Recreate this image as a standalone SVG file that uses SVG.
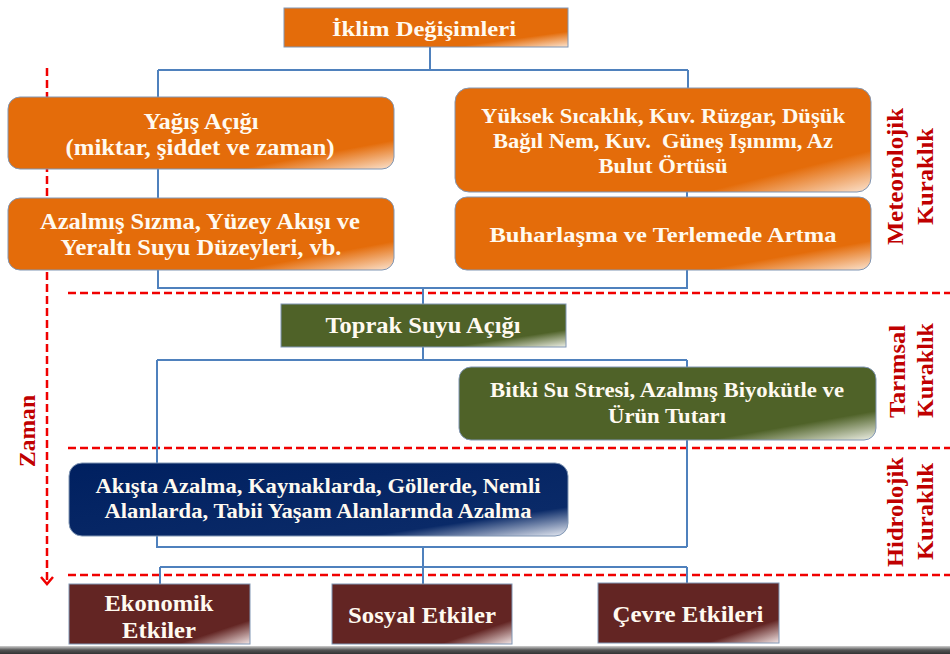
<svg xmlns="http://www.w3.org/2000/svg" width="950" height="654" viewBox="0 0 950 654">
<defs>
<linearGradient id="gOr" x1="0" y1="0" x2="1" y2="1"><stop offset="0" stop-color="#E46C0A"/><stop offset="0.8" stop-color="#E46C0A"/><stop offset="1" stop-color="#FBE3CF"/></linearGradient>
<linearGradient id="gGr" x1="0" y1="0" x2="1" y2="1"><stop offset="0" stop-color="#4F6228"/><stop offset="0.8" stop-color="#4F6228"/><stop offset="1" stop-color="#EEF0E6"/></linearGradient>
<linearGradient id="gNv" x1="0" y1="0" x2="1" y2="1"><stop offset="0" stop-color="#002060"/><stop offset="0.8" stop-color="#0A2A68"/><stop offset="1" stop-color="#E8ECF4"/></linearGradient>
<linearGradient id="gMr" x1="0" y1="0" x2="1" y2="1"><stop offset="0" stop-color="#632523"/><stop offset="0.8" stop-color="#632523"/><stop offset="1" stop-color="#F2E6E6"/></linearGradient>
<linearGradient id="gBar" x1="0" y1="0" x2="0" y2="1"><stop offset="0" stop-color="#d0d0d0"/><stop offset="0.5" stop-color="#555"/><stop offset="1" stop-color="#333"/></linearGradient>
<style>
.bx{stroke:#8096B4;stroke-width:1}
text{font-family:"Liberation Serif","Times New Roman",serif;font-weight:bold}
.t{fill:#FFFAF0;text-anchor:middle}
.s{fill:#C00000;text-anchor:middle}
.c{fill:none;stroke:#4F81BD;stroke-width:2}
.d{fill:none;stroke:#F00000;stroke-width:2.5;stroke-dasharray:8 4}
</style>
</defs>
<rect width="950" height="654" fill="#ffffff"/>

<g id="guides">
<path class="d" d="M68 293H950M68 448H950M68 575H950"/>
<path class="d" d="M47 68V582"/>
<path d="M41 577L47 584L53 577" fill="none" stroke="#F00000" stroke-width="2.5"/>
</g>

<g id="connectors">
<path class="c" d="M430 47V70M158 70H688M158 70V97M688 70V88"/>
<path class="c" d="M158 169V198M687 192V197"/>
<path class="c" d="M158 270V288H687V270M423 288V304"/>
<path class="c" d="M423 347V360M157 360H687M157 360V463M687 360V367"/>
<path class="c" d="M687 440V547M157 536V547H687"/>
<path class="c" d="M423 547V567M160 567H687M160 567V584M423 567V584M687 567V583"/>
</g>

<g id="iklim">
<rect class="bx" x="284" y="8" width="284" height="39" fill="url(#gOr)"/>
<text class="t" x="424" y="36" font-size="22" textLength="184" lengthAdjust="spacingAndGlyphs">İklim Değişimleri</text>
</g>

<g id="yagis">
<rect class="bx" x="8" y="97" width="386" height="72" rx="12" fill="url(#gOr)"/>
<text class="t" x="201" y="129" font-size="23" textLength="115" lengthAdjust="spacingAndGlyphs">Yağış Açığı</text>
<text class="t" x="200" y="155" font-size="23" textLength="269" lengthAdjust="spacingAndGlyphs">(miktar, şiddet ve zaman)</text>
</g>

<g id="azalmis">
<rect class="bx" x="8" y="198" width="386" height="72" rx="12" fill="url(#gOr)"/>
<text class="t" x="200" y="229" font-size="23" textLength="320" lengthAdjust="spacingAndGlyphs">Azalmış Sızma, Yüzey Akışı ve</text>
<text class="t" x="201" y="255" font-size="23" textLength="281" lengthAdjust="spacingAndGlyphs">Yeraltı Suyu Düzeyleri, vb.</text>
</g>

<g id="yuksek">
<rect class="bx" x="455" y="88" width="416" height="104" rx="14" fill="url(#gOr)"/>
<text class="t" x="663" y="123" font-size="22" textLength="364" lengthAdjust="spacingAndGlyphs">Yüksek Sıcaklık, Kuv. Rüzgar, Düşük</text>
<text class="t" x="663" y="148" font-size="22" textLength="340" lengthAdjust="spacingAndGlyphs" xml:space="preserve">Bağıl Nem, Kuv.  Güneş Işınımı, Az</text>
<text class="t" x="663" y="173" font-size="22" textLength="129" lengthAdjust="spacingAndGlyphs">Bulut Örtüsü</text>
</g>

<g id="buharlasma">
<rect class="bx" x="455" y="197" width="416" height="73" rx="12" fill="url(#gOr)"/>
<text class="t" x="663" y="242" font-size="22" textLength="347" lengthAdjust="spacingAndGlyphs">Buharlaşma ve Terlemede Artma</text>
</g>

<g id="toprak">
<rect class="bx" x="281" y="304" width="285" height="43" fill="url(#gGr)"/>
<text class="t" x="423" y="333" font-size="23" textLength="195" lengthAdjust="spacingAndGlyphs">Toprak Suyu Açığı</text>
</g>

<g id="bitki">
<rect class="bx" x="459" y="367" width="417" height="73" rx="12" fill="url(#gGr)"/>
<text class="t" x="667" y="397" font-size="22" textLength="354" lengthAdjust="spacingAndGlyphs">Bitki Su Stresi, Azalmış Biyokütle ve</text>
<text class="t" x="667" y="423" font-size="22" textLength="118" lengthAdjust="spacingAndGlyphs">Ürün Tutarı</text>
</g>

<g id="akista">
<rect class="bx" x="69" y="463" width="499" height="73" rx="13" fill="url(#gNv)"/>
<text class="t" x="318" y="493" font-size="22" textLength="445" lengthAdjust="spacingAndGlyphs">Akışta Azalma, Kaynaklarda, Göllerde, Nemli</text>
<text class="t" x="318" y="518" font-size="22" textLength="427" lengthAdjust="spacingAndGlyphs">Alanlarda, Tabii Yaşam Alanlarında Azalma</text>
</g>

<g id="ekonomik">
<rect class="bx" x="69" y="584" width="181" height="60" fill="url(#gMr)"/>
<text class="t" x="159" y="611" font-size="23" textLength="109" lengthAdjust="spacingAndGlyphs">Ekonomik</text>
<text class="t" x="159" y="638" font-size="23" textLength="74" lengthAdjust="spacingAndGlyphs">Etkiler</text>
</g>

<g id="sosyal">
<rect class="bx" x="332" y="584" width="180" height="60" fill="url(#gMr)"/>
<text class="t" x="422" y="623" font-size="23" textLength="148" lengthAdjust="spacingAndGlyphs">Sosyal Etkiler</text>
</g>

<g id="cevre">
<rect class="bx" x="598" y="583" width="181" height="60" fill="url(#gMr)"/>
<text class="t" x="688" y="622" font-size="23" textLength="151" lengthAdjust="spacingAndGlyphs">Çevre Etkileri</text>
</g>

<g id="labels">
<text class="s" font-size="23" textLength="72" lengthAdjust="spacingAndGlyphs" transform="translate(35 431) rotate(-90)">Zaman</text>
<text class="s" font-size="23" textLength="137" lengthAdjust="spacingAndGlyphs" transform="translate(903 176.5) rotate(-90)">Meteorolojik</text>
<text class="s" font-size="23" textLength="97" lengthAdjust="spacingAndGlyphs" transform="translate(933 176.5) rotate(-90)">Kuraklık</text>
<text class="s" font-size="23" textLength="93" lengthAdjust="spacingAndGlyphs" transform="translate(905 371.5) rotate(-90)">Tarımsal</text>
<text class="s" font-size="23" textLength="95" lengthAdjust="spacingAndGlyphs" transform="translate(933 370.5) rotate(-90)">Kuraklık</text>
<text class="s" font-size="23" textLength="110" lengthAdjust="spacingAndGlyphs" transform="translate(903 512) rotate(-90)">Hidrolojik</text>
<text class="s" font-size="23" textLength="97" lengthAdjust="spacingAndGlyphs" transform="translate(933 511.5) rotate(-90)">Kuraklık</text>
</g>

<rect x="0" y="646" width="950" height="8" fill="url(#gBar)"/>
</svg>
